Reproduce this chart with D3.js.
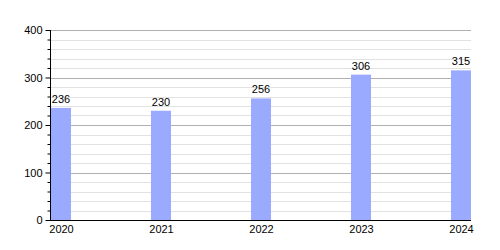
<!DOCTYPE html>
<html><head><meta charset="utf-8">
<script src="https://cdn.jsdelivr.net/npm/d3@7"></script>
<style>body{margin:0;background:#fff;}svg{display:block;font-family:"Liberation Sans",Arial,sans-serif;}</style>
</head><body>
<svg id="c" width="500" height="250"></svg>
<script>
const years = ["2020","2021","2022","2023","2024"];
const values = [236, 230, 256, 306, 315];
const yMajorTicks = [0, 100, 200, 300, 400];

(function(){
const svg = d3.select("#c");
const mLeft = 50, mRight = 471, mTop = 30, mBottom = 220;
const x = d3.scalePoint().domain(years).range([61, 461]);
const y = d3.scaleLinear().domain([0, 400]).range([mBottom, mTop]);
const barW = 20;

const minor = d3.range(0, 401, 20).filter(v => v % 100 !== 0);
svg.append("g").selectAll("line").data(minor).join("line")
  .attr("x1", mLeft).attr("x2", mRight)
  .attr("y1", d => Math.round(y(d)) + 0.5).attr("y2", d => Math.round(y(d)) + 0.5)
  .attr("stroke", "#e2e2e2");
svg.append("g").selectAll("line").data(yMajorTicks.filter(v => v > 0)).join("line")
  .attr("x1", mLeft).attr("x2", mRight)
  .attr("y1", d => Math.round(y(d)) + 0.5).attr("y2", d => Math.round(y(d)) + 0.5)
  .attr("stroke", "#b0b0b0");

svg.append("line").attr("x1", mLeft).attr("x2", mRight)
  .attr("y1", mBottom + 0.5).attr("y2", mBottom + 0.5).attr("stroke", "#000");

svg.append("g").selectAll("rect").data(values).join("rect")
  .attr("x", (d, i) => x(years[i]) - barW / 2)
  .attr("width", barW)
  .attr("y", d => y(d))
  .attr("height", d => y(0) - y(d))
  .attr("fill", "#99aaff");

svg.append("g").selectAll("text").data(values).join("text")
  .attr("x", (d, i) => x(years[i]))
  .attr("y", d => y(d) - 5)
  .attr("text-anchor", "middle").attr("font-size", 11).attr("fill", "#000")
  .text(d => d);

const yAxis = d3.axisLeft(y).tickValues(yMajorTicks).tickSize(5).tickPadding(3);
const gy = svg.append("g").attr("transform", `translate(${mLeft + 0.5},0)`).call(yAxis);
gy.select(".domain").attr("d", `M0,${mTop}V${mBottom}`);
gy.selectAll("text").attr("font-size", 11).attr("font-family", "Liberation Sans, Arial, sans-serif").attr("fill", "#000");
gy.selectAll(".tick line").attr("stroke", "#000");
const gyMinor = svg.append("g").attr("transform", `translate(${mLeft + 0.5},0)`)
  .call(d3.axisLeft(y).tickValues(minor).tickSize(3).tickFormat(""));
gyMinor.select(".domain").remove();

const gx = svg.append("g").attr("transform", `translate(0,${mBottom})`)
  .call(d3.axisBottom(x).tickSize(0).tickPadding(5));
gx.select(".domain").remove();
gx.selectAll("text").attr("font-size", 11).attr("font-family", "Liberation Sans, Arial, sans-serif").attr("fill", "#000");
})();
</script>
</body></html>
